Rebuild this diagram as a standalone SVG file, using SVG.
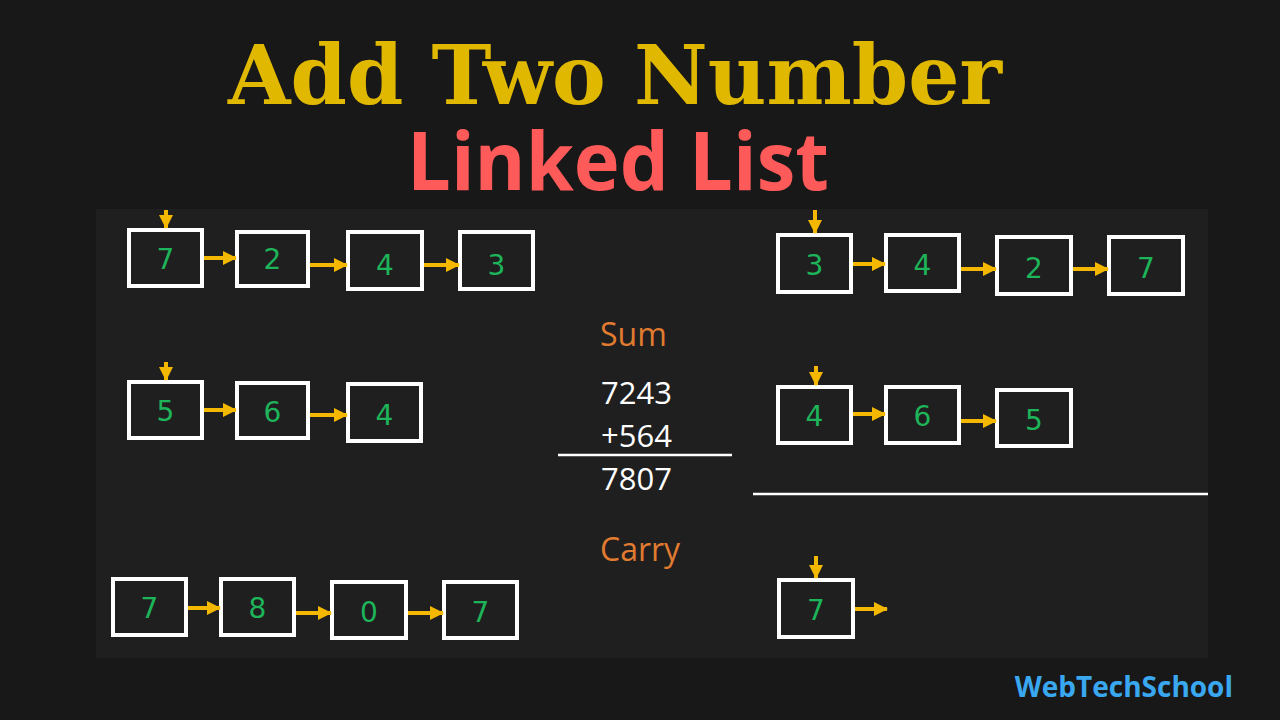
<svg xmlns="http://www.w3.org/2000/svg" width="1280" height="720" viewBox="0 0 1280 720">
<defs>
<marker id="ah" markerUnits="userSpaceOnUse" markerWidth="14" markerHeight="14" refX="13" refY="7" orient="auto">
<polygon points="0,0 14,7 0,14" fill="#f5b800"/>
</marker>
<style>
.box{fill:#1f1f1f;stroke:#ffffff;stroke-width:4}
.num{font-family:"DejaVu Sans",sans-serif;font-size:28px;fill:#1db45a;text-anchor:middle}
.arr{stroke:#f5b800;stroke-width:4;fill:none;marker-end:url(#ah)}
.lbl{font-family:"Open Sans",sans-serif;font-size:32px;fill:#e07b30}
.calc{font-family:"Open Sans",sans-serif;font-size:31px;fill:#ffffff}
</style>
</defs>
<rect width="1280" height="720" fill="#181818"/>
<rect x="96" y="209" width="1112" height="449" fill="#1f1f1f"/>
<text x="615" y="104" text-anchor="middle" font-family="DejaVu Serif,serif" font-weight="bold" font-size="82" fill="#e0b800" textLength="774" lengthAdjust="spacingAndGlyphs">Add Two Number</text>
<text x="618" y="190" text-anchor="middle" font-family="Open Sans,sans-serif" font-weight="bold" font-size="80" fill="#ff5a5a" textLength="422" lengthAdjust="spacingAndGlyphs">Linked List</text>

<g id="l1n1"><rect class="box" x="129" y="230" width="73" height="56"/><text class="num" x="165.5" y="269">7</text></g>
<g id="l1n2"><rect class="box" x="237" y="232" width="71" height="54"/><text class="num" x="272.5" y="269">2</text></g>
<g id="l1n3"><rect class="box" x="348" y="232" width="74" height="57"/><text class="num" x="385" y="275">4</text></g>
<g id="l1n4"><rect class="box" x="460" y="232" width="73" height="57"/><text class="num" x="496.5" y="275">3</text></g>

<g id="r1n1"><rect class="box" x="778" y="235" width="73" height="57"/><text class="num" x="814.5" y="275">3</text></g>
<g id="r1n2"><rect class="box" x="886" y="235" width="73" height="56"/><text class="num" x="922.5" y="275">4</text></g>
<g id="r1n3"><rect class="box" x="997" y="237" width="74" height="57"/><text class="num" x="1034" y="278">2</text></g>
<g id="r1n4"><rect class="box" x="1109" y="237" width="74" height="57"/><text class="num" x="1146" y="278">7</text></g>

<g id="l2n1"><rect class="box" x="129" y="382" width="73" height="56"/><text class="num" x="165.5" y="421">5</text></g>
<g id="l2n2"><rect class="box" x="237" y="383" width="71" height="55"/><text class="num" x="272.5" y="422">6</text></g>
<g id="l2n3"><rect class="box" x="348" y="384" width="73" height="57"/><text class="num" x="384.5" y="425">4</text></g>

<g id="r2n1"><rect class="box" x="778" y="387" width="73" height="56"/><text class="num" x="814.5" y="426">4</text></g>
<g id="r2n2"><rect class="box" x="886" y="387" width="73" height="56"/><text class="num" x="922.5" y="426">6</text></g>
<g id="r2n3"><rect class="box" x="997" y="390" width="74" height="56"/><text class="num" x="1034" y="430">5</text></g>

<g id="l3n1"><rect class="box" x="113" y="579" width="73" height="56"/><text class="num" x="149.5" y="618">7</text></g>
<g id="l3n2"><rect class="box" x="221" y="579" width="73" height="56"/><text class="num" x="257.5" y="618">8</text></g>
<g id="l3n3"><rect class="box" x="332" y="582" width="74" height="56"/><text class="num" x="369" y="622">0</text></g>
<g id="l3n4"><rect class="box" x="444" y="582" width="73" height="56"/><text class="num" x="480.5" y="622">7</text></g>

<g id="r3n1"><rect class="box" x="779" y="580" width="74" height="57"/><text class="num" x="816" y="620">7</text></g>

<g id="calc">
<text class="lbl" x="600" y="346">Sum</text>
<text class="calc" x="601" y="404">7243</text>
<text class="calc" x="601" y="447">+564</text>
<line x1="558" y1="455" x2="732" y2="455" stroke="#ffffff" stroke-width="2.5"/>
<text class="calc" x="601" y="490">7807</text>
<text class="lbl" x="600" y="561">Carry</text>
<line x1="753" y1="494" x2="1208" y2="494" stroke="#ffffff" stroke-width="2.5"/>
</g>

<g id="connectors">
<line class="arr" x1="166" y1="210" x2="166" y2="228"/>
<line class="arr" x1="204" y1="258" x2="236" y2="258"/>
<line class="arr" x1="310" y1="265" x2="347" y2="265"/>
<line class="arr" x1="424" y1="265" x2="459" y2="265"/>

<line class="arr" x1="815" y1="210" x2="815" y2="233"/>
<line class="arr" x1="853" y1="264" x2="885" y2="264"/>
<line class="arr" x1="961" y1="269" x2="996" y2="269"/>
<line class="arr" x1="1073" y1="269" x2="1108" y2="269"/>

<line class="arr" x1="166" y1="362" x2="166" y2="380"/>
<line class="arr" x1="204" y1="410" x2="236" y2="410"/>
<line class="arr" x1="310" y1="415" x2="347" y2="415"/>

<line class="arr" x1="816" y1="366" x2="816" y2="385"/>
<line class="arr" x1="853" y1="414" x2="885" y2="414"/>
<line class="arr" x1="961" y1="421" x2="996" y2="421"/>

<line class="arr" x1="188" y1="608" x2="220" y2="608"/>
<line class="arr" x1="296" y1="613" x2="331" y2="613"/>
<line class="arr" x1="408" y1="613" x2="443" y2="613"/>

<line class="arr" x1="816" y1="556" x2="816" y2="578"/>
<line class="arr" x1="855" y1="609" x2="887" y2="609"/>
</g>

<text x="1233" y="697" text-anchor="end" font-family="Open Sans,sans-serif" font-weight="bold" font-size="28" fill="#3aa8f0">WebTechSchool</text>
</svg>
